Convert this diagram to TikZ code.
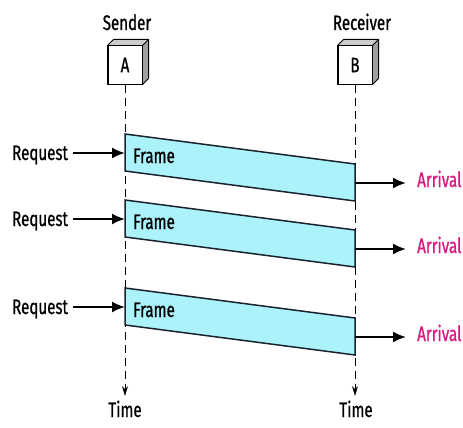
\documentclass[tikz,border=0pt]{standalone}
\usepackage{fontspec}
\setmainfont[FakeStretch=0.72,FakeBold=0.8]{Fira Sans}
\usetikzlibrary{arrows.meta}
\definecolor{framefill}{RGB}{172,242,250}
\definecolor{arrivalpink}{RGB}{222,24,130}
\definecolor{edgedark}{RGB}{25,35,45}
\tikzset{
  lbl/.style={font=\fontsize{21}{23}\selectfont, inner sep=0pt},
  station/.style={draw=black, line width=1pt, fill=white, minimum width=34pt,
                  minimum height=38pt, inner sep=0pt, font=\fontsize{21}{23}\selectfont},
  timeline/.style={draw=black, line width=0.8pt, dash pattern=on 8pt off 5pt,
                   -{Stealth[length=10pt,width=6pt]}},
  framebox/.style={draw=edgedark, line width=1.5pt, fill=framefill, line join=miter},
  evt/.style={draw=black, line width=2pt, -{Latex[length=13pt,width=11pt]}},
}
\begin{document}
\begin{tikzpicture}[x=1pt,y=-1pt]
\useasboundingbox (0,0) rectangle (463,428);

% stations drawn as small cubes
\foreach \nm/\cx/\lab in {A/125/A, B/355/B}{
  \node[station] (\nm) at (\cx,65) {\lab};
  \fill[gray!40] (\nm.north west) -- ++(6,-6) -- ([xshift=6pt,yshift=6pt]\nm.north east) -- (\nm.north east) -- cycle;
  \fill[gray!75] (\nm.north east) -- ++(6,-6) -- ([xshift=6pt,yshift=6pt]\nm.south east) -- (\nm.south east) -- cycle;
  \draw[line width=1pt, line join=round] (\nm.north west) -- ++(6,-6) -- ([xshift=6pt,yshift=6pt]\nm.north east)
        -- ([xshift=6pt,yshift=6pt]\nm.south east) -- (\nm.south east);
  \draw[line width=1pt] (\nm.north east) -- ++(6,-6);
  \draw[line width=1pt] (\nm.north west) rectangle (\nm.south east);
}
\node[lbl, anchor=base] (snd) at (127,30) {Sender};
\node[lbl, anchor=base] (rcv) at (362,30) {Receiver};

% time axes
\coordinate (ta) at (125,396);
\coordinate (tb) at (355,396);
\draw[timeline] (A.south) -- (ta);
\draw[timeline] (B.south) -- (tb);
\node[lbl, anchor=base] (tA) at (125,417) {Time};
\node[lbl, anchor=base] (tB) at (356,417) {Time};

% frames: left edge on the sender line, right edge on the receiver line
\foreach \i/\ya/\yb in {1/134/164, 2/200/230, 3/288/318}{
  \coordinate (f\i nw) at (125,\ya);
  \coordinate (f\i sw) at (125,\ya+37);
  \coordinate (f\i ne) at (355,\yb);
  \coordinate (f\i se) at (355,\yb+37);
  \coordinate (f\i in) at (125,\ya+19);
  \coordinate (f\i out) at (355,\yb+19);
  \draw[framebox] (f\i nw) -- (f\i ne) -- (f\i se) -- (f\i sw) -- cycle;
  \node[lbl, anchor=base west] (fl\i) at (133,\ya+29) {Frame};
  \node[lbl, anchor=base west] (rq\i) at (12,\ya+26) {Request};
  \coordinate (rs\i) at (73,\ya+19);
  \draw[evt] (rs\i) -- (f\i in);
  \node[lbl, anchor=base west, text=arrivalpink] (ar\i) at (417,\yb+23) {Arrival};
  \coordinate (ae\i) at (406,\yb+19);
  \draw[evt] (f\i out) -- (ae\i);
}
\end{tikzpicture}
\end{document}
